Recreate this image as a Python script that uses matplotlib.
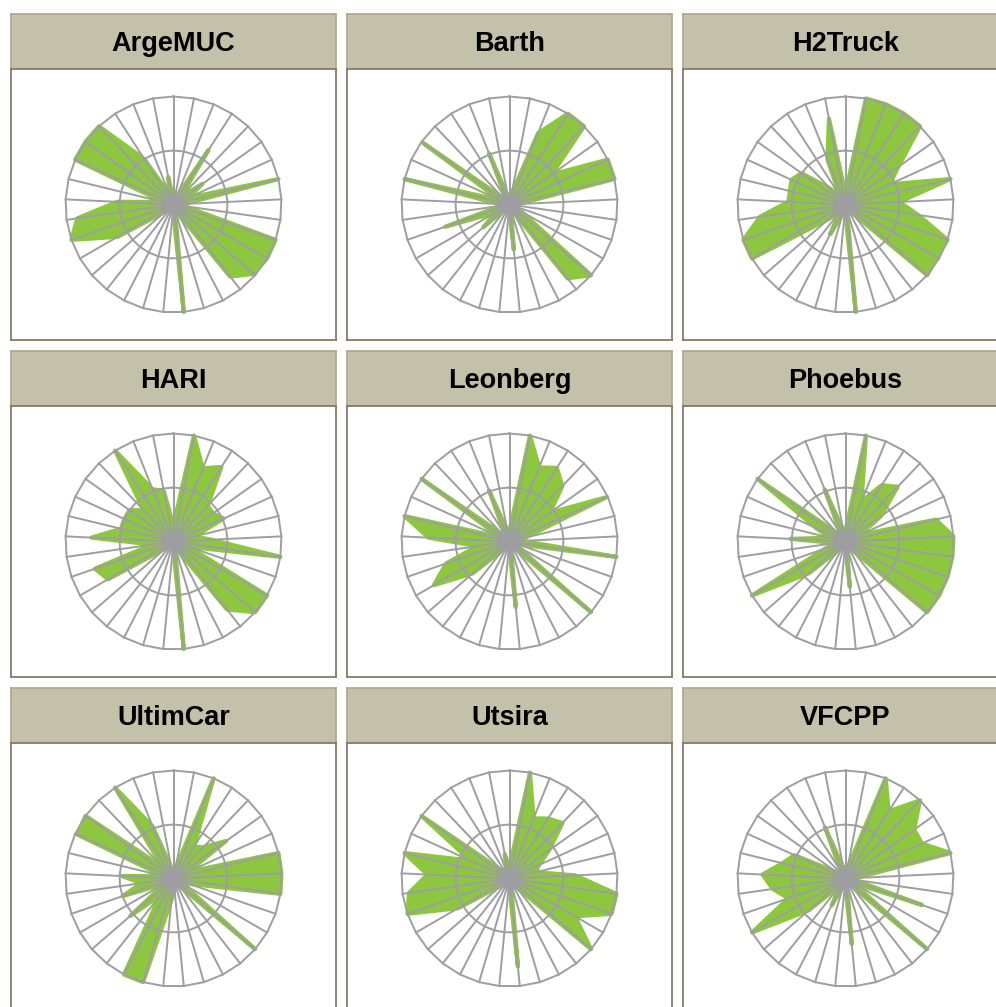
import numpy as np
import matplotlib.pyplot as plt

# figure size in pixels (panels of the last row / column are cut by the edge)
W, H = 996, 1007

sites = ["ArgeMUC", "Barth", "H2Truck",
         "HARI", "Leonberg", "Phoebus",
         "UltimCar", "Utsira", "VFCPP"]

# 33 spokes, clockwise from the top
argemuc = [0.05, 0.05, 0.08, 0.6, 0.1, 0.33, 0.15, 1.0, 0.1, 0.1, 1.0,
           1.0, 0.98, 0.85, 0.1, 0.05, 1.0, 0.05, 0.05, 0.05, 0.05, 0.1,
           0.6, 1.0, 0.9, 0.52, 0.1, 1.0, 1.0, 1.0, 0.5, 0.1, 0.26]
barth = [0.05, 0.1, 0.71, 1.0, 1.0, 0.48, 1.0, 1.0, 0.08, 0.05, 0.05,
         0.12, 1.0, 0.87, 0.08, 0.05, 0.42, 0.05, 0.05, 0.05, 0.05, 0.32,
         0.15, 0.63, 0.08, 0.1, 1.0, 0.1, 0.98, 0.08, 0.05, 0.51, 0.08]
h2truck = [0.1, 1.0, 1.0, 1.0, 1.0, 0.6, 0.45, 1.0, 0.5, 0.68, 1.0,
           0.98, 1.0, 0.1, 0.05, 0.05, 1.0, 0.05, 0.1, 0.31, 0.1, 0.2,
           1.0, 1.0, 0.8, 0.53, 0.53, 0.55, 0.5, 0.2, 0.1, 0.45, 0.81]
hari = [0.15, 1.0, 0.73, 0.82, 0.46, 0.45, 0.51, 0.2, 0.35, 1.0, 0.15,
        1.0, 1.0, 0.8, 0.1, 0.05, 1.0, 0.05, 0.05, 0.05, 0.05, 0.1,
        0.7, 0.77, 0.2, 0.76, 0.5, 0.5, 0.5, 0.4, 1.0, 0.52, 0.48]
leonberg = [0.1, 1.0, 0.74, 0.81, 0.71, 0.46, 0.99, 0.15, 0.12, 1.0, 0.08,
            0.08, 1.0, 0.08, 0.05, 0.05, 0.61, 0.05, 0.05, 0.05, 0.1, 0.45,
            0.81, 0.62, 0.3, 0.75, 1.0, 0.1, 1.0, 0.08, 0.08, 0.51, 0.1]
phoebus = [0.1, 1.0, 0.4, 0.62, 0.7, 0.4, 0.15, 0.86, 1.0, 1.0, 1.0,
           1.0, 1.0, 0.1, 0.05, 0.05, 0.42, 0.05, 0.05, 0.05, 0.1, 0.45,
           1.0, 0.2, 0.1, 0.51, 0.15, 0.3, 1.0, 0.1, 0.08, 0.52, 0.1]
ultimcar = [0.08, 0.1, 1.0, 0.35, 0.4, 0.6, 0.15, 1.0, 1.0, 1.0, 0.15,
            0.1, 1.0, 0.08, 0.05, 0.05, 0.1, 0.2, 1.0, 1.0, 0.2, 0.53,
            0.1, 0.5, 0.3, 0.48, 0.1, 0.98, 1.0, 0.15, 1.0, 0.52, 0.1]
utsira = [0.1, 1.0, 0.6, 0.66, 0.71, 0.45, 0.3, 0.25, 0.61, 1.0, 1.0,
          0.7, 1.0, 0.1, 0.05, 0.05, 0.82, 0.05, 0.05, 0.05, 0.05, 0.1,
          0.55, 1.0, 0.94, 0.76, 1.0, 0.4, 1.0, 0.1, 0.05, 0.08, 0.23]
vfcpp = [0.1, 0.1, 1.0, 0.74, 1.0, 0.78, 0.78, 1.0, 0.1, 0.08, 0.75,
         0.08, 1.0, 0.08, 0.05, 0.05, 0.61, 0.05, 0.08, 0.28, 0.08, 0.45,
         1.0, 0.56, 0.68, 0.77, 0.6, 0.52, 0.1, 0.08, 0.08, 0.51, 0.1]

values = [argemuc, barth, h2truck, hari, leonberg, phoebus, ultimcar, utsira, vfcpp]

GREEN = "#8dc63f"
GRID = "#9e9ea2"
HEAD = "#c4c1aa"


def box(x0, y0, w, h):
    # pixel box (top-left origin) -> figure fraction
    return [x0 / W, 1 - (y0 + h) / H, w / W, h / H]


fig = plt.figure(figsize=(W / 100, H / 100), dpi=100)
fig.patch.set_facecolor("white")

n = len(argemuc)
theta = np.linspace(0, 2 * np.pi, n, endpoint=False)
theta_c = np.append(theta, theta[0])

for i, (name, vals) in enumerate(zip(sites, values)):
    col, row = i % 3, i // 3
    x0 = 11 + col * 336
    y0 = 14 + row * 337

    # header strip
    ah = fig.add_axes(box(x0, y0, 325, 55))
    ah.set_facecolor(HEAD)
    ah.set_xticks([])
    ah.set_yticks([])
    for s in ah.spines.values():
        s.set_color("#b3a388")
        s.set_linewidth(1.2)
    ah.text(0.5, 0.335, name, ha="center", va="baseline", fontsize=19.5,
            fontweight="bold", family="Liberation Sans", transform=ah.transAxes)

    # body frame
    ab = fig.add_axes(box(x0, y0 + 55, 325, 271))
    ab.set_xticks([])
    ab.set_yticks([])
    for s in ab.spines.values():
        s.set_color("#877a6b")
        s.set_linewidth(1.3)

    # radar
    cx = x0 + 162.5
    cy = y0 + 55 + 135.5
    ax = fig.add_axes(box(cx - 135, cy - 135, 270, 270), projection="polar")
    ax.set_theta_zero_location("N")
    ax.set_theta_direction(-1)
    ax.set_ylim(0, 1.25)
    ax.grid(False)
    ax.set_xticks([])
    ax.set_yticks([])
    ax.spines["polar"].set_visible(False)
    ax.patch.set_alpha(0)

    v = np.append(vals, vals[0])
    ax.fill(theta_c, v, color=GREEN, lw=0, zorder=2)
    ax.plot(theta_c, v, color=GREEN, lw=3.0, solid_joinstyle="round",
            solid_capstyle="round", zorder=3)

    # polygon rings and spokes
    for r in (0.5, 1.0):
        ax.plot(theta_c, np.full_like(theta_c, r), color=GRID, lw=1.4, zorder=4)
    for t in theta:
        ax.plot([t, t], [0, 1.0], color=GRID, lw=1.4, zorder=4)
    # grey hub where the spokes meet
    ax.fill(np.linspace(0, 2 * np.pi, 60), np.full(60, 0.085), color=GRID,
            lw=0, zorder=5)

fig.savefig("out.png", dpi=100, facecolor="white")
